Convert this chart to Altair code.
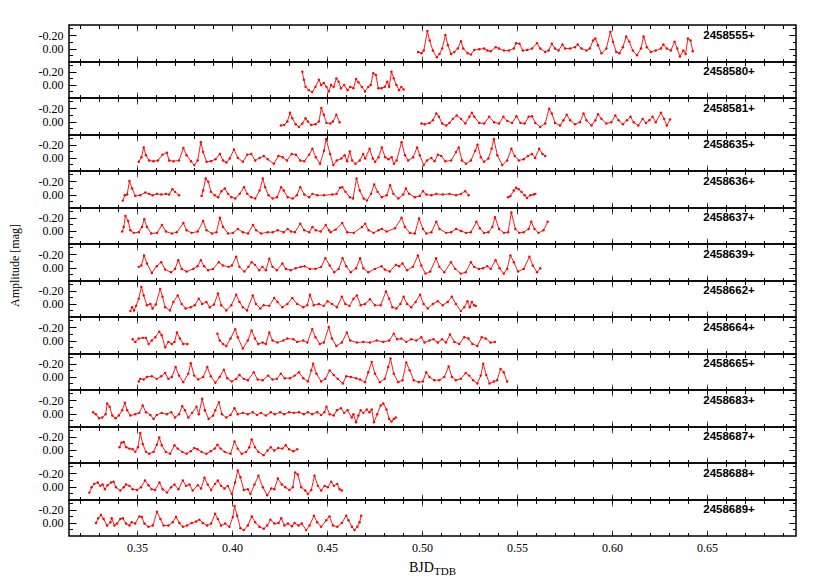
import altair as alt
import pandas as pd

LABELS = ["2458555+", "2458580+", "2458581+", "2458635+", "2458636+", "2458637+", "2458639+",
          "2458662+", "2458664+", "2458665+", "2458683+", "2458687+", "2458688+", "2458689+"]

P1_X = [0.4979,0.4997,0.5009,0.5028,0.5040,0.5057,0.5078,0.5092,0.5106,0.5123,
        0.5136,0.5153,0.5170,0.5188,0.5205,0.5217,0.5240,0.5257,0.5275,0.5301,
        0.5327,0.5344,0.5361,0.5388,0.5405,0.5431,0.5457,0.5483,0.5495,0.5513,
        0.5530,0.5553,0.5579,0.5605,0.5622,0.5648,0.5666,0.5683,0.5700,0.5718,
        0.5739,0.5753,0.5779,0.5805,0.5819,0.5839,0.5865,0.5883,0.5900,0.5912,
        0.5926,0.5944,0.5970,0.5991,0.6005,0.6022,0.6039,0.6057,0.6074,0.6091,
        0.6109,0.6131,0.6152,0.6166,0.6183,0.6204,0.6230,0.6257,0.6270,0.6288,
        0.6309,0.6329,0.6343,0.6357,0.6375,0.6387,0.6399,0.6413,0.6425]
P1_Y = [0.05,0.07,0.03,-0.26,-0.12,0.03,0.13,0.08,0.00,-0.20,
        -0.05,0.08,0.05,0.00,-0.11,0.00,0.07,0.09,0.02,0.01,
        0.00,0.03,0.04,-0.02,0.00,0.03,0.03,0.00,-0.08,-0.07,
        0.03,0.02,0.00,-0.08,0.00,0.05,0.03,-0.07,0.00,0.03,
        -0.06,0.00,0.00,-0.02,-0.06,0.00,0.03,0.00,-0.12,-0.15,
        -0.05,0.07,0.00,-0.25,-0.10,0.05,0.07,-0.02,-0.18,-0.10,
        0.03,0.10,0.00,-0.18,-0.02,0.05,0.03,0.00,-0.06,0.00,
        0.03,-0.10,0.00,0.12,0.03,0.08,-0.15,-0.12,0.04]

P2_X = [0.4370,0.4378,0.4387,0.4404,0.4422,0.4439,0.4457,0.4469,0.4483,0.4497,
        0.4509,0.4521,0.4535,0.4549,0.4561,0.4573,0.4590,0.4608,0.4622,0.4639,
        0.4653,0.4665,0.4683,0.4700,0.4717,0.4730,0.4743,0.4757,0.4770,0.4787,
        0.4804,0.4817,0.4827,0.4839,0.4851,0.4865,0.4879,0.4891,0.4903]
P2_Y = [-0.20,-0.08,0.03,0.08,0.11,0.03,-0.08,0.00,-0.03,0.03,
        0.10,0.00,0.03,-0.10,-0.05,0.05,0.00,0.08,0.03,0.05,
        -0.09,-0.04,0.03,0.10,0.03,0.00,-0.18,-0.15,0.05,0.05,
        0.03,-0.05,0.03,-0.20,-0.10,0.00,0.08,0.03,0.07]

P3A_X = [0.4257,0.4274,0.4291,0.4305,0.4317,0.4335,0.4352,0.4370,0.4387,0.4399,
         0.4417,0.4439,0.4457,0.4470,0.4483,0.4497,0.4517,0.4531,0.4549,0.4566]
P3A_Y = [0.06,0.05,0.00,-0.13,-0.05,0.04,0.08,0.03,-0.05,0.00,
         0.05,0.04,0.00,-0.20,-0.10,0.02,0.03,0.00,-0.10,0.01]
P3B_X = [0.4997,0.5014,0.5040,0.5057,0.5075,0.5089,0.5106,0.5127,0.5144,0.5162,
         0.5182,0.5205,0.5228,0.5249,0.5262,0.5275,0.5301,0.5327,0.5353,0.5379,
         0.5405,0.5428,0.5448,0.5474,0.5497,0.5518,0.5540,0.5561,0.5579,0.5596,
         0.5622,0.5648,0.5669,0.5683,0.5700,0.5726,0.5744,0.5761,0.5779,0.5805,
         0.5831,0.5850,0.5865,0.5892,0.5912,0.5926,0.5944,0.5970,0.5996,0.6017,
         0.6034,0.6057,0.6079,0.6097,0.6114,0.6138,0.6161,0.6178,0.6196,0.6213,
         0.6230,0.6257,0.6274,0.6288,0.6305]
P3B_Y = [0.03,0.04,0.02,-0.02,-0.12,-0.07,0.03,0.06,0.02,-0.04,
         -0.09,-0.04,0.03,-0.07,-0.13,-0.07,0.02,0.03,-0.07,0.01,
         0.03,-0.07,-0.01,0.02,-0.08,0.02,0.03,-0.07,-0.08,0.02,
         0.08,0.03,-0.19,-0.12,0.02,0.06,-0.02,-0.10,-0.02,0.04,
         0.01,-0.12,-0.02,0.06,-0.02,-0.11,-0.04,0.03,0.01,-0.09,
         -0.02,0.04,-0.02,-0.07,0.01,0.06,-0.04,0.02,-0.02,-0.07,
         0.01,-0.13,-0.04,0.06,-0.03]

P4_X = [0.3509,0.3523,0.3535,0.3547,0.3564,0.3587,0.3610,0.3634,0.3657,0.3669,
        0.3692,0.3721,0.3744,0.3761,0.3784,0.3801,0.3819,0.3836,0.3848,0.3866,
        0.3889,0.3913,0.3936,0.3953,0.3970,0.3988,0.4010,0.4031,0.4057,0.4080,
        0.4101,0.4122,0.4145,0.4167,0.4188,0.4220,0.4244,0.4267,0.4289,0.4314,
        0.4336,0.4359,0.4380,0.4406,0.4423,0.4441,0.4463,0.4484,0.4495,
        0.4516,0.4533,0.4551,0.4575,0.4592,0.4606,0.4620,0.4632,0.4649,0.4672,
        0.4690,0.4701,0.4724,0.4741,0.4753,0.4771,0.4788,0.4806,0.4823,0.4840,
        0.4852,0.4866,0.4892,0.4910,0.4927,0.4953,0.4974,0.4988,0.5009,0.5026,
        0.5049,0.5066,0.5083,0.5101,0.5123,0.5153,0.5179,0.5193,0.5210,0.5231,
        0.5257,0.5280,0.5292,0.5309,0.5326,0.5349,0.5366,0.5378,0.5396,0.5422,
        0.5448,0.5470,0.5488,0.5509,0.5535,0.5557,0.5578,0.5595,0.5616,0.5634,
        0.5648]
P4_Y = [0.06,-0.01,-0.16,-0.04,0.04,0.05,0.04,-0.05,-0.08,0.04,
        0.05,0.04,-0.15,-0.04,0.05,0.11,0.04,-0.24,-0.09,0.06,
        0.05,0.02,-0.06,0.04,0.07,0.01,-0.13,0.00,0.06,-0.05,
        -0.06,0.04,0.00,-0.03,0.02,0.09,-0.03,-0.01,0.04,-0.06,
        -0.05,0.04,0.05,-0.05,-0.14,-0.01,0.09,-0.11,-0.29,
        -0.06,0.11,0.04,0.01,-0.04,0.05,-0.10,0.04,0.09,0.04,
        -0.06,0.01,-0.14,0.01,0.06,-0.01,-0.16,-0.01,0.02,-0.01,
        0.09,0.04,-0.24,-0.04,0.04,-0.01,-0.16,-0.04,0.11,0.04,
        0.00,0.05,-0.05,-0.03,0.05,0.04,-0.09,-0.16,0.04,0.09,
        0.04,-0.11,-0.20,-0.01,0.06,0.01,-0.14,-0.29,-0.04,0.11,
        0.04,-0.14,-0.03,0.04,0.02,-0.03,-0.06,0.00,-0.14,-0.06,
        -0.03]

P5A_X = [0.3425,0.3436,0.3448,0.3460,0.3474,0.3491,0.3517,0.3544,0.3564,0.3582,
         0.3605,0.3627,0.3652,0.3669,0.3686,0.3700,0.3721]
P5A_Y = [0.09,0.01,0.00,-0.20,-0.09,0.02,0.01,-0.03,-0.01,0.01,
         -0.01,0.00,-0.01,0.00,-0.08,-0.04,0.01]
P5B_X = [0.3840,0.3848,0.3861,0.3875,0.3889,0.3909,0.3927,0.3944,0.3962,0.3979,
         0.3997,0.4017,0.4040,0.4063,0.4080,0.4101,0.4122,0.4145,0.4162,0.4174,
         0.4192,0.4214,0.4237,0.4258,0.4272,0.4293,0.4319,0.4341,0.4359,0.4380,
         0.4406,0.4423,0.4449,0.4484,
         0.4528,0.4550,0.4568,0.4580,0.4597,0.4620,0.4637,0.4655,0.4672,0.4693,
         0.4710,0.4731,0.4748,0.4766,0.4788,0.4814,0.4832,0.4849,0.4875,0.4901,
         0.4915,0.4932,0.4962,0.4988,0.5005,0.5023,0.5049,0.5075,0.5109,0.5144,
         0.5179,0.5205,0.5227,0.5245]
P5B_Y = [0.02,-0.06,-0.24,-0.19,-0.04,0.01,0.04,-0.05,-0.09,-0.01,
         0.04,0.06,-0.01,-0.11,-0.01,0.04,0.06,-0.06,-0.24,-0.11,
         0.01,0.06,0.04,-0.11,-0.06,0.04,0.06,0.01,-0.11,0.00,
         0.04,-0.01,0.01,0.01,
         0.00,-0.01,-0.10,-0.11,-0.04,0.04,0.06,-0.24,-0.06,0.06,
         0.09,-0.01,-0.15,-0.04,0.04,0.01,-0.14,-0.01,0.06,0.00,
         -0.09,-0.01,0.04,0.02,-0.05,0.00,0.01,-0.01,0.00,-0.01,
         0.01,-0.01,-0.05,0.01]
P5C_X = [0.5453,0.5465,0.5483,0.5495,0.5509,0.5523,0.5540,0.5552,0.5570,0.5587,0.5596]
P5C_Y = [0.04,0.02,-0.06,-0.10,-0.08,-0.04,0.01,0.05,0.01,0.00,-0.01]

P6_X = [0.3422,0.3430,0.3439,0.3453,0.3465,0.3483,0.3509,0.3526,0.3538,0.3552,
        0.3575,0.3605,0.3631,0.3652,0.3683,0.3709,0.3744,0.3761,0.3787,0.3819,
        0.3848,0.3866,0.3895,0.3918,0.3936,0.3953,0.3979,0.4005,0.4031,0.4057,
        0.4084,0.4110,0.4127,0.4153,0.4188,0.4214,0.4240,0.4272,0.4293,0.4310,
        0.4331,0.4359,0.4380,0.4406,0.4423,0.4441,0.4467,0.4493,0.4510,
        0.4519,0.4545,0.4580,0.4606,0.4641,0.4684,0.4701,0.4719,0.4745,0.4771,
        0.4788,0.4814,0.4858,0.4892,0.4910,0.4936,0.4962,0.4984,0.5005,0.5023,
        0.5049,0.5075,0.5092,0.5127,0.5153,0.5179,0.5205,0.5231,0.5257,0.5286,
        0.5304,0.5326,0.5349,0.5370,0.5384,0.5405,0.5431,0.5453,0.5470,0.5491,
        0.5512,0.5535,0.5561,0.5575,0.5592,0.5613,0.5639,0.5661]
P6_Y = [0.01,-0.06,-0.23,-0.15,-0.01,0.03,0.02,-0.06,-0.18,-0.06,
        0.04,0.03,-0.09,0.01,0.04,0.02,-0.12,-0.01,0.03,0.01,
        -0.15,-0.01,0.04,0.02,-0.20,-0.06,0.04,0.03,-0.03,0.02,
        0.04,-0.09,-0.01,0.04,0.02,0.02,-0.01,0.02,-0.03,0.01,
        0.02,-0.11,-0.01,0.02,-0.06,-0.01,0.01,-0.09,-0.01,
        0.02,-0.02,-0.12,0.02,0.03,-0.06,-0.11,-0.01,0.03,-0.01,
        -0.03,0.01,-0.04,-0.20,-0.06,0.03,0.04,-0.19,-0.03,0.04,
        0.02,-0.14,-0.03,0.03,0.02,-0.03,0.00,0.03,0.02,-0.14,
        -0.04,0.03,0.02,-0.06,-0.21,-0.03,0.03,0.02,-0.28,-0.03,
        0.03,0.02,-0.03,-0.14,-0.03,0.03,-0.01,-0.14]

P7_X = [0.3509,0.3523,0.3537,0.3552,0.3578,0.3604,0.3627,0.3648,0.3679,0.3700,
        0.3717,0.3735,0.3761,0.3796,0.3818,0.3836,0.3853,0.3874,0.3900,0.3930,
        0.3952,0.3982,0.3999,0.4022,0.4039,0.4065,0.4086,0.4103,0.4121,0.4143,
        0.4160,0.4178,0.4196,0.4213,0.4236,0.4265,0.4283,0.4309,0.4335,0.4361,
        0.4382,0.4410,0.4439,0.4469,0.4491,0.4514,0.4538,0.4561,0.4582,0.4601,
        0.4625,0.4653,0.4674,0.4691,0.4717,0.4752,0.4787,0.4804,0.4830,0.4862,
        0.4879,0.4897,0.4921,0.4952,0.4978,0.4996,0.5018,0.5043,0.5074,0.5091,
        0.5117,0.5152,0.5175,0.5204,0.5230,0.5257,0.5274,0.5300,0.5321,0.5343,
        0.5361,0.5387,0.5408,0.5430,0.5448,0.5465,0.5483,0.5505,0.5535,0.5565,
        0.5583,0.5605,0.5622]
P7_Y = [-0.01,-0.03,-0.18,-0.06,0.08,-0.02,-0.08,0.03,0.07,0.02,
        -0.11,0.02,0.06,0.02,-0.02,-0.11,-0.02,0.04,0.02,-0.08,
        -0.03,-0.01,-0.03,-0.16,-0.01,0.06,-0.01,-0.08,-0.04,0.04,
        -0.01,0.04,-0.13,-0.01,0.04,-0.06,0.02,0.04,0.01,-0.01,
        -0.02,0.02,0.02,-0.01,-0.14,-0.03,0.07,0.02,-0.14,-0.02,
        0.07,0.01,-0.14,0.01,0.07,0.02,-0.02,0.03,0.06,-0.04,
        -0.02,-0.06,0.04,-0.01,-0.18,-0.03,0.09,0.06,-0.14,-0.01,
        0.07,-0.08,0.02,0.09,0.07,-0.08,-0.01,0.02,0.01,-0.02,
        0.02,-0.11,0.01,0.09,0.02,-0.18,-0.08,0.06,0.02,-0.16,
        -0.03,0.07,0.01]

P8_X = [0.3465,0.3474,0.3484,0.3495,0.3509,0.3523,0.3535,0.3552,0.3570,0.3582,
        0.3599,0.3622,0.3634,0.3648,0.3674,0.3691,0.3714,0.3735,0.3756,0.3783,
        0.3804,0.3825,0.3843,0.3865,0.3883,0.3905,0.3926,0.3943,0.3970,0.3996,
        0.4022,0.4039,0.4057,0.4079,0.4109,0.4126,0.4149,0.4166,0.4196,0.4222,
        0.4239,0.4265,0.4291,0.4317,0.4343,0.4375,0.4396,0.4410,0.4430,0.4457,
        0.4483,0.4503,0.4526,0.4552,0.4578,0.4596,0.4618,0.4639,0.4657,0.4677,
        0.4700,0.4726,0.4752,0.4782,0.4810,0.4827,0.4844,0.4865,0.4886,0.4903,
        0.4921,0.4943,0.4966,0.4990,0.5008,0.5030,0.5057,0.5083,0.5109,0.5135,
        0.5157,0.5178,0.5204,0.5222,0.5239,0.5251,0.5262,0.5274,0.5283]
P8_Y = [0.11,0.05,0.10,0.03,-0.08,-0.26,-0.13,0.02,0.00,0.07,
        0.01,-0.23,-0.11,0.05,0.10,-0.03,-0.13,0.00,0.07,0.05,
        0.02,-0.08,0.00,-0.03,0.05,0.01,-0.16,0.02,0.10,0.02,
        -0.14,-0.03,0.05,0.10,-0.13,0.00,0.07,0.02,0.03,-0.09,
        -0.03,0.05,0.00,-0.09,0.00,0.05,0.02,-0.14,0.02,0.00,
        0.03,-0.04,0.00,0.05,-0.11,0.00,0.03,-0.08,-0.13,0.02,
        0.00,-0.07,0.02,0.02,-0.19,-0.08,0.05,0.07,0.00,-0.11,
        0.00,0.05,-0.03,-0.14,0.00,0.07,0.00,-0.04,0.02,-0.03,
        -0.11,0.00,0.11,0.05,-0.04,0.05,-0.03,0.02,0.03]

P9A_X = [0.3477,0.3491,0.3509,0.3530,0.3547,0.3561,0.3578,0.3596,0.3617,0.3630,
         0.3648,0.3665,0.3683,0.3697,0.3710,0.3726,0.3743,0.3765]
P9A_Y = [-0.02,0.02,-0.03,-0.04,-0.04,0.05,0.00,-0.05,-0.13,-0.08,
         0.10,0.02,0.05,0.02,-0.12,-0.03,0.05,0.05]
P9B_X = [0.3923,0.3935,0.3952,0.3970,0.3992,0.4017,0.4030,0.4057,0.4083,0.4103,
         0.4121,0.4138,0.4161,0.4178,0.4196,0.4213,0.4239,0.4270,0.4291,0.4323,
         0.4343,0.4375,0.4396,0.4422,0.4439,0.4462,0.4483,0.4509,0.4526,0.4549,
         0.4578,0.4604,0.4622,0.4657,0.4691,0.4726,0.4761,0.4796,0.4827,0.4851,
         0.4869,0.4891,0.4917,0.4943,0.4970,0.4996,0.5013,0.5039,0.5060,0.5083,
         0.5105,0.5126,0.5147,0.5170,0.5196,0.5222,0.5244,0.5265,0.5291,0.5314,
         0.5335,0.5361,0.5383]
P9B_Y = [-0.10,0.00,0.05,0.08,-0.03,-0.17,-0.05,0.12,0.00,-0.15,
         -0.03,0.05,0.03,0.05,-0.12,0.00,0.03,0.00,-0.03,-0.02,
         0.02,0.00,0.03,-0.17,-0.05,0.05,0.03,-0.20,-0.03,0.08,
         0.03,-0.12,0.00,0.03,0.02,0.03,0.00,0.02,0.00,-0.10,
         -0.02,-0.03,0.02,-0.02,0.00,-0.05,0.03,0.00,-0.02,0.03,
         -0.02,0.03,-0.09,0.02,0.05,-0.05,-0.03,0.05,0.08,-0.05,
         -0.03,0.03,0.02]

P10_X = [0.3509,0.3517,0.3535,0.3552,0.3578,0.3604,0.3627,0.3648,0.3665,0.3683,
         0.3703,0.3721,0.3743,0.3770,0.3783,0.3801,0.3822,0.3848,0.3870,0.3888,
         0.3912,0.3935,0.3957,0.3975,0.3999,0.4022,0.4039,0.4062,0.4083,0.4114,
         0.4135,0.4161,0.4190,0.4213,0.4236,0.4257,0.4277,0.4305,0.4330,0.4352,
         0.4375,0.4399,0.4417,0.4427,0.4444,0.4469,0.4491,0.4514,0.4535,0.4556,
         0.4583,0.4601,0.4625,0.4653,0.4674,0.4700,0.4717,0.4735,0.4752,0.4778,
         0.4804,0.4822,0.4834,0.4851,0.4874,0.4897,0.4917,0.4935,0.4956,0.4983,
         0.5004,0.5022,0.5039,0.5065,0.5091,0.5117,0.5140,0.5157,0.5178,0.5204,
         0.5230,0.5248,0.5269,0.5291,0.5309,0.5322,0.5338,0.5355,0.5378,0.5395,
         0.5413,0.5430,0.5448]
P10_Y = [0.07,0.03,0.04,0.00,-0.01,0.03,-0.01,-0.06,0.03,0.00,
         -0.15,-0.02,0.08,-0.05,-0.21,-0.02,0.04,0.00,-0.15,-0.01,
         0.09,0.00,-0.11,0.02,0.07,0.03,-0.03,0.03,0.05,-0.07,
         0.04,0.05,-0.02,0.04,0.03,-0.05,0.02,0.02,-0.02,-0.07,
         0.02,0.07,-0.10,-0.20,-0.05,0.07,0.03,-0.10,-0.03,0.03,
         0.10,-0.01,0.00,0.02,0.04,0.08,-0.07,-0.23,-0.05,0.08,
         0.03,-0.15,-0.28,-0.05,0.08,0.05,-0.22,-0.10,0.05,0.08,
         0.07,-0.07,0.00,0.05,0.05,0.00,-0.16,0.00,0.05,0.03,
         -0.06,-0.02,0.05,0.10,-0.02,-0.20,-0.03,0.10,0.07,0.05,
         -0.12,-0.07,0.07]

P11_X = [0.3269,0.3283,0.3300,0.3317,0.3335,0.3343,0.3356,0.3370,0.3387,0.3404,
         0.3422,0.3436,0.3448,0.3465,0.3491,0.3512,0.3530,0.3547,0.3570,0.3587,
         0.3604,0.3630,0.3657,0.3680,0.3700,0.3721,0.3738,0.3752,0.3770,0.3790,
         0.3813,0.3825,0.3843,0.3857,0.3877,0.3900,0.3912,0.3931,0.3947,0.3970,
         0.3992,0.4013,0.4030,0.4057,0.4083,0.4109,0.4131,0.4152,0.4178,0.4204,
         0.4225,0.4253,0.4274,0.4300,0.4326,0.4352,0.4378,0.4399,0.4422,0.4448,
         0.4469,0.4486,0.4497,0.4514,0.4535,0.4552,0.4573,0.4590,0.4608,0.4630,
         0.4639,0.4653,0.4665,0.4677,0.4691,0.4709,0.4723,0.4735,0.4747,0.4764,
         0.4782,0.4796,0.4813,0.4827,0.4839,0.4851,0.4862]
P11_Y = [-0.02,0.01,0.07,0.06,0.01,-0.15,-0.10,0.03,0.07,0.03,
         -0.05,-0.16,-0.05,0.03,0.01,-0.01,-0.12,-0.02,0.02,0.08,
         0.02,-0.01,0.01,-0.02,0.06,0.01,-0.11,-0.05,0.06,-0.01,
         -0.10,0.01,-0.22,-0.05,0.08,0.03,-0.05,-0.17,0.01,0.06,
         0.02,-0.08,0.01,-0.01,0.01,-0.02,0.02,-0.01,0.03,-0.02,
         0.01,-0.02,0.01,-0.02,-0.01,-0.02,0.01,-0.02,0.01,-0.02,
         0.02,-0.02,-0.10,0.01,0.03,-0.05,-0.08,-0.01,-0.05,0.06,
         0.01,0.13,0.03,-0.05,-0.01,-0.06,-0.02,-0.06,0.13,0.01,
         -0.12,-0.15,-0.06,0.08,0.12,0.08,0.06]

P12_X = [0.3408,0.3418,0.3430,0.3443,0.3460,0.3477,0.3491,0.3505,0.3517,0.3530,
         0.3547,0.3564,0.3587,0.3604,0.3617,0.3630,0.3651,0.3674,0.3697,0.3714,
         0.3738,0.3761,0.3783,0.3801,0.3818,0.3839,0.3865,0.3888,0.3909,0.3923,
         0.3940,0.3961,0.3992,0.4013,0.4030,0.4051,0.4074,0.4091,0.4103,0.4121,
         0.4138,0.4166,0.4187,0.4204,0.4222,0.4243,0.4265,0.4283,0.4300,0.4323,
         0.4343]
P12_Y = [-0.04,-0.11,-0.12,-0.04,-0.02,-0.01,0.03,-0.04,-0.26,-0.09,
         0.03,0.06,0.03,-0.08,-0.19,-0.07,0.03,0.06,-0.07,-0.02,
         0.03,0.06,0.02,-0.03,-0.01,0.03,0.06,0.02,-0.02,-0.08,
         -0.02,0.03,0.06,-0.13,-0.02,0.06,0.03,-0.04,-0.16,-0.04,
         0.03,0.08,0.01,-0.04,0.01,-0.03,-0.02,-0.07,-0.01,0.02,
         -0.01]

P13_X = [0.3249,0.3261,0.3275,0.3293,0.3307,0.3319,0.3331,0.3345,0.3363,0.3377,
         0.3389,0.3412,0.3430,0.3442,0.3460,0.3477,0.3500,0.3521,0.3542,0.3560,
         0.3577,0.3595,0.3618,0.3635,0.3658,0.3679,0.3697,0.3718,0.3741,0.3758,
         0.3776,0.3793,0.3820,0.3837,0.3855,0.3872,0.3890,0.3911,0.3925,0.3942,
         0.3960,0.3978,0.3999,0.4016,0.4030,0.4044,0.4062,0.4083,0.4097,0.4118,
         0.4139,0.4162,0.4185,0.4206,0.4223,0.4241,0.4262,0.4280,0.4302,0.4320,
         0.4332,0.4346,0.4364,0.4385,0.4399,0.4417,0.4434,0.4452,0.4469,0.4487,
         0.4504,0.4522,0.4536,0.4554,0.4566,0.4578]
P13_Y = [0.09,0.01,-0.04,-0.06,-0.01,-0.03,0.04,-0.02,-0.06,-0.07,
         0.01,0.06,0.01,-0.03,-0.01,0.04,0.05,0.01,-0.09,-0.02,
         0.04,0.05,-0.06,0.04,0.09,0.01,-0.03,0.04,-0.09,-0.01,
         -0.03,0.06,-0.02,0.03,-0.13,-0.03,0.05,-0.04,-0.09,-0.01,
         0.03,-0.01,0.11,-0.06,-0.24,-0.14,0.05,0.04,0.11,-0.03,
         -0.16,0.01,0.13,0.03,0.04,-0.12,-0.03,0.01,0.05,0.01,
         -0.21,-0.18,0.01,0.06,0.11,0.05,-0.16,-0.01,0.06,-0.01,
         0.01,-0.07,-0.01,-0.04,0.04,0.06]

P14_X = [0.3284,0.3296,0.3310,0.3324,0.3342,0.3360,0.3367,0.3381,0.3395,0.3412,
         0.3425,0.3442,0.3460,0.3472,0.3490,0.3512,0.3525,0.3539,0.3560,0.3583,
         0.3605,0.3623,0.3640,0.3665,0.3688,0.3705,0.3723,0.3741,0.3763,0.3788,
         0.3811,0.3828,0.3846,0.3869,0.3890,0.3911,0.3925,0.3942,0.3964,0.3986,
         0.4004,0.4013,0.4027,0.4044,0.4062,0.4083,0.4104,0.4122,0.4144,0.4167,
         0.4185,0.4202,0.4223,0.4245,0.4259,0.4276,0.4294,0.4315,0.4329,0.4350,
         0.4367,0.4390,0.4408,0.4431,0.4448,0.4469,0.4496,0.4513,0.4531,0.4554,
         0.4578,0.4601,0.4613,0.4631,0.4645,0.4659,0.4671,0.4680]
P14_Y = [0.00,-0.07,-0.12,-0.06,0.04,-0.01,-0.07,0.04,0.01,-0.06,
         -0.07,0.01,0.04,-0.01,0.01,-0.10,-0.09,0.01,0.06,0.04,
         -0.17,-0.06,0.04,0.04,-0.01,-0.09,0.00,0.06,0.04,0.00,
         -0.02,-0.05,0.00,0.04,0.01,-0.14,-0.06,0.04,0.01,0.06,
         -0.09,-0.26,-0.11,0.08,0.11,0.04,-0.10,-0.01,0.06,0.09,
         0.04,-0.05,0.01,0.00,-0.07,0.04,0.01,0.05,0.00,0.04,
         0.01,0.11,0.04,-0.11,-0.01,0.06,-0.04,-0.10,0.04,0.06,
         0.00,-0.11,-0.04,0.06,0.11,0.06,-0.01,-0.11]

SERIES = {
    "2458555+": [(P1_X, P1_Y)],
    "2458580+": [(P2_X, P2_Y)],
    "2458581+": [(P3A_X, P3A_Y), (P3B_X, P3B_Y)],
    "2458635+": [(P4_X, P4_Y)],
    "2458636+": [(P5A_X, P5A_Y), (P5B_X, P5B_Y), (P5C_X, P5C_Y)],
    "2458637+": [(P6_X, P6_Y)],
    "2458639+": [(P7_X, P7_Y)],
    "2458662+": [(P8_X, P8_Y)],
    "2458664+": [(P9A_X, P9A_Y), (P9B_X, P9B_Y)],
    "2458665+": [(P10_X, P10_Y)],
    "2458683+": [(P11_X, P11_Y)],
    "2458687+": [(P12_X, P12_Y)],
    "2458688+": [(P13_X, P13_Y)],
    "2458689+": [(P14_X, P14_Y)],
}

X_MAJOR = [0.35, 0.40, 0.45, 0.50, 0.55, 0.60, 0.65]
X_MINOR = [round(0.32 + 0.01 * k, 2) for k in range(38)]
Y_MAJOR = [-0.20, 0.00]
Y_MINOR = [-0.30, -0.10, 0.10]
X_DOMAIN = [0.3142, 0.6968]
Y_DOMAIN = [-0.35, 0.20]
LABEL_X = 0.648
LABEL_Y = -0.19

W = 727
RED = "#ff0000"
SERIF = "Liberation Serif"

for lab, segs in SERIES.items():
    for xs, ys in segs:
        if len(xs) != len(ys):
            raise ValueError(f"{lab}: {len(xs)} x vs {len(ys)} y")

xscale = alt.Scale(domain=X_DOMAIN, nice=False, zero=False)
yscale = alt.Scale(domain=Y_DOMAIN, nice=False, zero=False, reverse=True)


def axis(orient, values, size, color="black", labels=False, expr=None):
    kw = dict(orient=orient, values=values, tickSize=size, offset=-size,
              domain=False, grid=False, ticks=True, tickColor=color,
              tickWidth=1, labels=labels, title=None)
    if labels:
        kw.update(labelExpr=expr, labelFont=SERIF, labelFontSize=12,
                  labelColor="black", labelPadding=6, labelFlush=False,
                  labelOverlap=False)
    return alt.Axis(**kw)


Y_EXPR = "datum.value < 0 ? '-' + format(-datum.value, '.2f') : format(datum.value, '.2f')"
X_EXPR = "format(datum.value, '.2f')"

panels = []
n = len(LABELS)
for i, label in enumerate(LABELS):
    H = 37 if i % 2 == 0 else 36
    rows = []
    for s, (xs, ys) in enumerate(SERIES[label]):
        rows += [{"x": a, "y": b, "seg": s} for a, b in zip(xs, ys)]
    df = pd.DataFrame(rows)
    lab = pd.DataFrame({"lx": [LABEL_X], "ly": [LABEL_Y], "t": [label]})
    last = i == n - 1

    base = alt.Chart(df)
    line = base.mark_line(color=RED, strokeWidth=0.9).encode(
        x=alt.X("x:Q", scale=xscale,
                axis=axis("bottom", X_MAJOR, 6, "#555", labels=last, expr=X_EXPR)),
        y=alt.Y("y:Q", scale=yscale,
                axis=axis("left", Y_MAJOR, 7, labels=True, expr=Y_EXPR)),
        detail="seg:N",
    )
    pts = base.mark_circle(color=RED, size=6, opacity=1).encode(
        x=alt.X("x:Q", scale=xscale, axis=axis("bottom", X_MINOR, 3.5)),
        y=alt.Y("y:Q", scale=yscale, axis=axis("left", Y_MINOR, 3.5)),
    )
    txt = alt.Chart(lab).mark_text(font="Liberation Sans", fontWeight="bold",
                                   fontSize=11.5, align="left", baseline="middle",
                                   color="black").encode(
        x=alt.X("lx:Q", scale=xscale, axis=axis("top", X_MAJOR, 6, "#555")),
        y=alt.Y("ly:Q", scale=yscale, axis=axis("right", Y_MAJOR, 7)),
        text="t:N",
    )
    ghost = alt.Chart(lab).mark_point(opacity=0).encode(
        x=alt.X("lx:Q", scale=xscale, axis=axis("top", X_MINOR, 3.5)),
        y=alt.Y("ly:Q", scale=yscale, axis=axis("right", Y_MINOR, 3.5)),
    )
    layers = [line, pts, txt, ghost]
    if i == 6:
        layers.append(alt.Chart(lab).mark_text(
            text="Amplitude [mag]", angle=270, font=SERIF, fontSize=12,
            align="center", baseline="middle", color="black").encode(
            x=alt.value(-54), y=alt.value(21.5)))
    if last:
        layers.append(alt.Chart(lab).mark_text(
            text="BJD", font=SERIF, fontSize=14, align="left",
            baseline="alphabetic", color="black").encode(
            x=alt.value(340), y=alt.value(H + 36)))
        layers.append(alt.Chart(lab).mark_text(
            text="TDB", font=SERIF, fontSize=11, align="left",
            baseline="alphabetic", color="black").encode(
            x=alt.value(365), y=alt.value(H + 39)))
    panel = alt.layer(*layers).resolve_axis(x="independent", y="independent").properties(
        width=W, height=H)
    panels.append(panel)

chart = alt.vconcat(*panels, spacing=0, bounds="flush").properties(
    padding={"left": 0, "top": 15, "right": 5, "bottom": 2}
).configure_view(stroke="black", strokeWidth=1.5)

chart.save("out.html", embed_options={"renderer": "svg", "actions": False})
